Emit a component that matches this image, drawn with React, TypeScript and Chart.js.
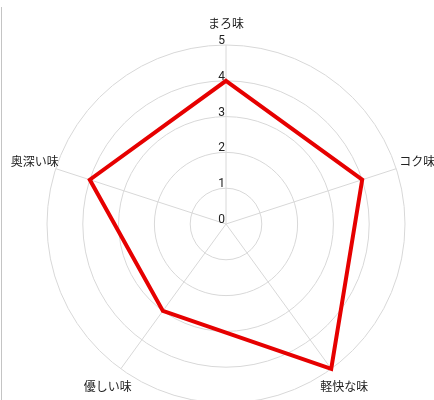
import React, { useEffect, useRef } from 'react';
import { Chart, registerables } from 'chart.js';

Chart.register(...registerables);

const CATEGORIES = ['まろ味', 'コク味', '軽快な味', '優しい味', '奥深い味'];
const VALUES = [4, 4, 5, 3, 4];
const TICK_LABELS = ['0', '1', '2', '3', '4', '5'];
const SCALE_MIN = 0;
const SCALE_MAX = 5;

const labelPlugin = {
  id: 'customLabels',
  beforeDatasetsDraw(chart: any) {
    const scale = chart.scales.r;
    const ctx = chart.ctx;
    ctx.save();
    ctx.fillStyle = '#222222';
    ctx.font = '12px Roboto, "Noto Sans CJK JP", sans-serif';
    ctx.textAlign = 'right';
    ctx.textBaseline = 'alphabetic';
    TICK_LABELS.forEach((t) => {
      const d = scale.getDistanceFromCenterForValue(parseFloat(t));
      ctx.fillText(t, scale.xCenter - 1, scale.yCenter - d - 1);
    });
    ctx.font = '12px "Noto Sans CJK JP", sans-serif';
    ctx.textAlign = 'center';
    ctx.textBaseline = 'middle';
    CATEGORIES.forEach((c, i) => {
      const p = scale.getPointPosition(i, scale.drawingArea + 22);
      ctx.fillText(c, p.x, p.y);
    });
    ctx.restore();
  },
};

export default function App() {
  const ref = useRef<HTMLCanvasElement | null>(null);

  useEffect(() => {
    if (!ref.current) return;
    const chart = new Chart(ref.current, {
      type: 'radar',
      data: {
        labels: CATEGORIES,
        datasets: [
          {
            data: VALUES,
            borderColor: '#e60000',
            backgroundColor: 'rgba(0,0,0,0)',
            borderWidth: 4,
            pointRadius: 0,
            pointHoverRadius: 0,
            fill: false,
            tension: 0,
          },
        ],
      },
      options: {
        animation: false,
        responsive: false,
        maintainAspectRatio: false,
        layout: { padding: { left: 47, top: 45, right: 29, bottom: 17 } },
        plugins: {
          legend: { display: false },
          tooltip: { enabled: false },
        },
        scales: {
          r: {
            min: SCALE_MIN,
            max: SCALE_MAX,
            ticks: { display: false, stepSize: 1 },
            pointLabels: { display: false },
            grid: { circular: true, color: '#d8d8d8', lineWidth: 1 },
            angleLines: { color: '#d8d8d8', lineWidth: 1 },
          },
        },
      },
      plugins: [labelPlugin],
    });
    return () => chart.destroy();
  }, []);

  return (
    <div
      style={{
        position: 'absolute',
        left: 0,
        top: 0,
        width: 434,
        height: 400,
        overflow: 'hidden',
        background: '#ffffff',
      }}
    >
      <div
        style={{
          position: 'absolute',
          left: 1,
          top: 7,
          width: 1,
          height: 393,
          background: '#c4c4c4',
        }}
      />
      <canvas
        ref={ref}
        width={434}
        height={420}
        style={{ position: 'absolute', left: 0, top: 0, width: 434, height: 420 }}
      />
    </div>
  );
}
